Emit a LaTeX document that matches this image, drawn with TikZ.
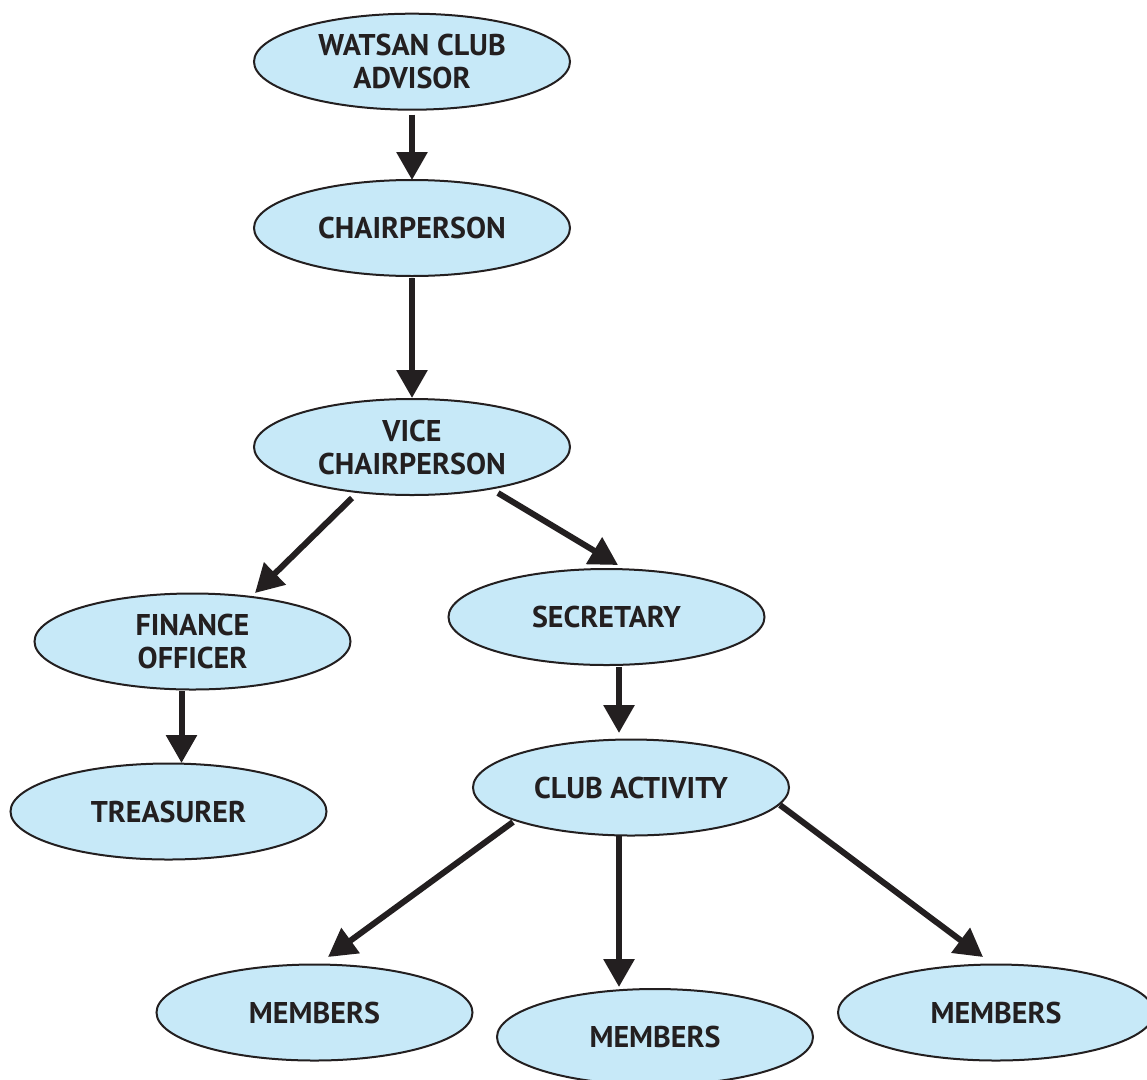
\documentclass[tikz,border=0pt]{standalone}
\usepackage{fontspec}
\setmainfont{PT Sans}
\usetikzlibrary{arrows.meta,shapes.geometric}
\definecolor{clubblue}{HTML}{C7E9F8}
\definecolor{inkblack}{HTML}{231F20}
\begin{document}
\begin{tikzpicture}[
x=1pt,y=-1pt,
every node/.style={ellipse,draw=inkblack,line width=2pt,fill=clubblue,
  minimum width=316pt,minimum height=96pt,inner sep=0pt,align=center,
  text=inkblack,font=\fontsize{30}{33}\selectfont\bfseries},
link/.style={draw=inkblack,line width=6pt,-{Triangle[width=30pt,length=28pt]}},
]
\useasboundingbox (0,0) rectangle (1147,1079);
\node (advisor) at (412,61.7) {WATSAN CLUB\\ADVISOR};
\node (chair) at (412,228) {CHAIRPERSON};
\node (vice) at (412,447) {VICE\\CHAIRPERSON};
\node (finance) at (192.5,641.5) {FINANCE\\OFFICER};
\node (secretary) at (606.5,617) {SECRETARY};
\node (treasurer) at (168.5,811.5) {TREASURER};
\node (club) at (631,787.5) {CLUB ACTIVITY};
\node (membersa) at (314.5,1012.5) {MEMBERS};
\node (membersb) at (655,1037) {MEMBERS};
\node (membersc) at (996,1012.5) {MEMBERS};

\draw[link] ([shift={(0,53)}]advisor.center) -- ([shift={(0,-48)}]chair.center);
\draw[link] ([shift={(0,50)}]chair.center) -- ([shift={(0,-49)}]vice.center);
\draw[link] ([shift={(-60,51)}]vice.center) -- ([shift={(62.5,-48.5)}]finance.center);
\draw[link] ([shift={(86,46)}]vice.center) -- ([shift={(11.5,-52)}]secretary.center);
\draw[link] ([shift={(-11,49.5)}]finance.center) -- ([shift={(13,-48.5)}]treasurer.center);
\draw[link] ([shift={(12.5,50)}]secretary.center) -- ([shift={(-12,-54.5)}]club.center);
\draw[link] ([shift={(-118,34.5)}]club.center) -- ([shift={(13.5,-55.5)}]membersa.center);
\draw[link] ([shift={(-12,48.5)}]club.center) -- ([shift={(-36,-50)}]membersb.center);
\draw[link] ([shift={(149,17.5)}]club.center) -- ([shift={(-13,-55.5)}]membersc.center);
\end{tikzpicture}
\end{document}
